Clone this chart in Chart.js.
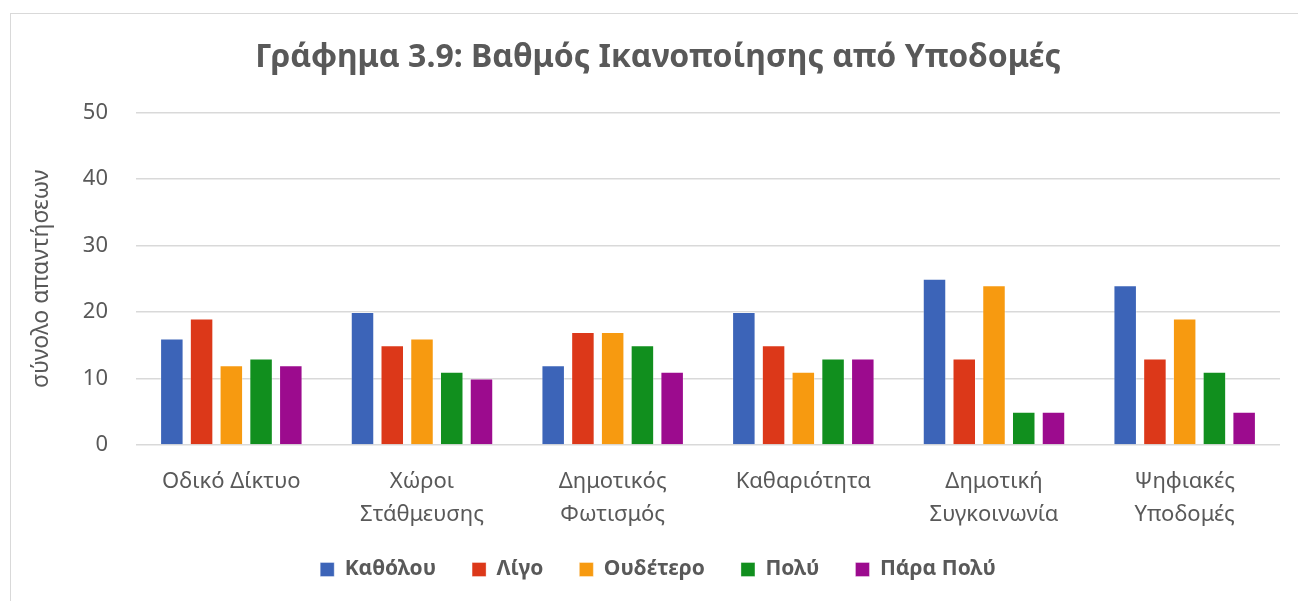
<!DOCTYPE html>
<html><head><meta charset="utf-8">
<script src="https://cdn.jsdelivr.net/npm/chart.js@4.4.0/dist/chart.umd.min.js"></script>
<style>
html,body{margin:0;padding:0;background:#fff;}
#frame{position:absolute;left:10px;top:13px;width:1300px;height:600px;border:1px solid #d9d9d9;}
#wrap{position:absolute;left:0;top:0;width:1298px;height:601px;}
</style></head>
<body>
<div id="frame"></div>
<div id="wrap"><canvas id="c" width="1298" height="601"></canvas></div>
<script>
const categories = [['Οδικό Δίκτυο'], ['Χώροι', 'Στάθμευσης'], ['Δημοτικός', 'Φωτισμός'], ['Καθαριότητα'], ['Δημοτική', 'Συγκοινωνία'], ['Ψηφιακές', 'Υποδομές']];
const seriesNames = ['Καθόλου', 'Λίγο', 'Ουδέτερο', 'Πολύ', 'Πάρα Πολύ'];
const katholou = [16, 20, 12, 20, 25, 24];
const ligo = [19, 15, 17, 15, 13, 13];
const oudetero = [12, 16, 17, 11, 24, 19];
const poly = [13, 11, 15, 13, 5, 11];
const paraPoly = [12, 10, 11, 13, 5, 5];
const yTicks = [0, 10, 20, 30, 40, 50];
const titleText = 'Γράφημα 3.9: Βαθμός Ικανοποίησης από Υποδομές';
const yTitle = 'σύνολο απαντήσεων';

const colors = ['#3c64b8', '#dc3819', '#f79a10', '#118f1e', '#9c0b8e'];
const values = [katholou, ligo, oudetero, poly, paraPoly];
const FONT = "'Noto Sans', sans-serif";
const TXT = '#595959';
const PAD_BOTTOM = 4;
const BLOCK_SHIFT = 36;
const LEGEND_RAISE = 7;

const datasets = seriesNames.map((n, i) => ({
  label: n, data: values[i], backgroundColor: colors[i],
  borderColor: 'rgba(255,255,255,0.35)', borderWidth: 1,
  categoryPercentage: 0.78, barPercentage: 0.79
}));

const shiftBlocks = {
  id: 'shiftBlocks',
  afterLayout(chart) {
    if (chart.titleBlock) chart.titleBlock.left += BLOCK_SHIFT;
    if (chart.legend) {
      chart.legend.left += BLOCK_SHIFT;
      chart.legend.top -= LEGEND_RAISE;
      chart.legend.bottom -= LEGEND_RAISE;
    }
  }
};

new Chart(document.getElementById('c'), {
  type: 'bar',
  data: { labels: categories, datasets },
  plugins: [shiftBlocks],
  options: {
    responsive: false, animation: false,
    layout: { padding: { left: 0, right: 18, top: 0, bottom: PAD_BOTTOM } },
    plugins: {
      title: { display: true, text: titleText, color: TXT,
        font: { family: FONT, size: 32, weight: 'bold', lineHeight: 1.2 },
        padding: { top: 39, bottom: 35 } },
      legend: { position: 'bottom',
        labels: { color: TXT, font: { family: FONT, size: 21, weight: 'bold' },
          boxWidth: 14, boxHeight: 14, padding: 36 } },
      tooltip: { enabled: false }
    },
    scales: {
      x: {
        grid: { display: false }, border: { display: false },
        ticks: { color: TXT, font: { family: FONT, size: 22, lineHeight: 1.5 }, padding: 12, maxRotation: 0, autoSkip: false },
        afterFit: (s) => { s.height = 601 - 445 - PAD_BOTTOM - s.chart.legend.height; }
      },
      y: {
        min: 0, max: 50,
        afterBuildTicks: (s) => { s.ticks = yTicks.map(v => ({ value: v })); },
        grid: { color: '#d9d9d9', lineWidth: 1.5, drawTicks: false },
        border: { display: false },
        ticks: { color: TXT, font: { family: FONT, size: 22 }, padding: 28 },
        title: { display: true, text: yTitle, color: TXT, font: { family: FONT, size: 23 }, padding: { top: 28, bottom: 0 } },
        afterFit: (s) => { s.width = 136; }
      }
    }
  }
});
</script>
</body></html>
